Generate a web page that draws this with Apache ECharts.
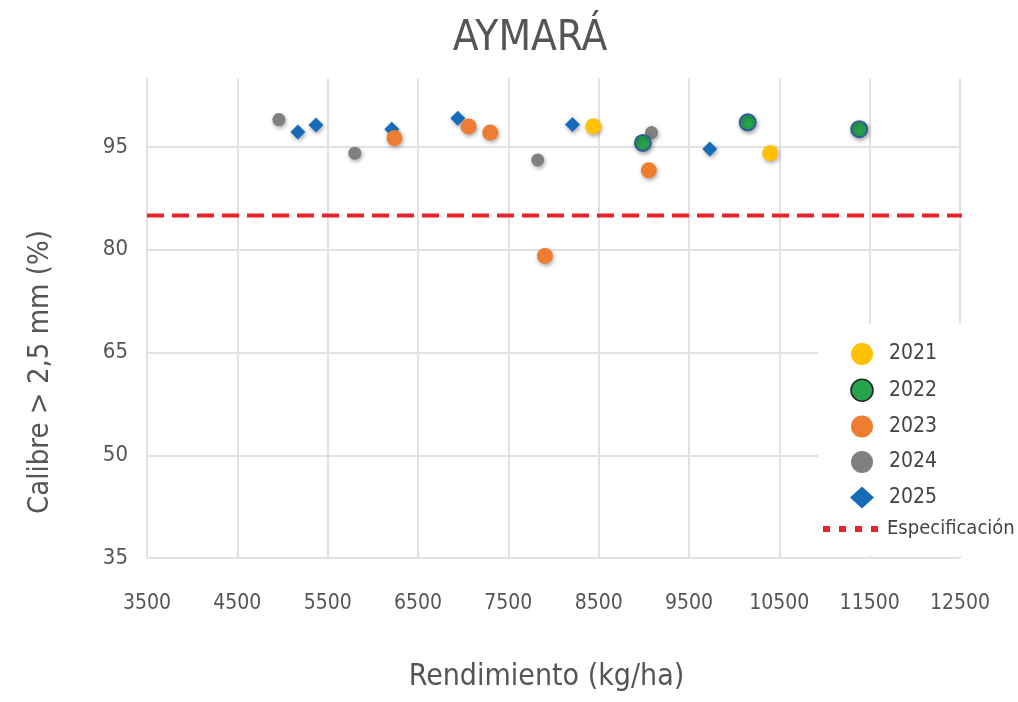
<!DOCTYPE html>
<html>
<head>
<meta charset="utf-8">
<script src="https://cdn.jsdelivr.net/npm/echarts@6/dist/echarts.min.js"></script>
<style>
html,body{margin:0;padding:0;background:#fff;}
#chart{width:1018px;height:702px;}
</style>
</head>
<body>
<div id="chart"></div>
<script>
// ---- data ----
const title = 'AYMARÁ';
const xName = 'Rendimiento (kg/ha)';
const yName = 'Calibre > 2,5 mm (%)';
const years = ['2021', '2022', '2023', '2024', '2025'];
const specName = 'Especificación';

const x2021 = [8440, 10400];
const y2021 = [98.0, 94.1];
const x2022 = [8990, 10150, 11385];
const y2022 = [95.6, 98.6, 97.6];
const x2023 = [6240, 7060, 7300, 7905, 9055];
const y2023 = [96.3, 98.0, 97.1, 79.1, 91.6];
const x2024 = [4960, 5800, 7825, 9085];
const y2024 = [99.0, 94.1, 93.1, 97.1];
const x2025 = [5170, 5370, 6210, 6940, 8210, 9730];
const y2025 = [97.2, 98.2, 97.6, 99.2, 98.3, 94.7];
const specX = [3500, 12590];
const specY = [85, 85];

const xTicks = [3500, 4500, 5500, 6500, 7500, 8500, 9500, 10500, 11500, 12500];
const yTicks = [35, 50, 65, 80, 95];

// ---- build ----
const FONT = "'Liberation Sans Narrow', 'DejaVu Sans Condensed', 'Roboto', sans-serif";
const pairs = (xs, ys) => xs.map((v, i) => [v, ys[i]]);
const shadow = {opacity: 1, shadowBlur: 4, shadowColor: 'rgba(0,0,0,0.35)', shadowOffsetX: 1, shadowOffsetY: 2};
const noShadow = {opacity: 1, shadowBlur: 0, shadowOffsetX: 0, shadowOffsetY: 0, shadowColor: 'rgba(0,0,0,0)'};

const chart = echarts.init(document.getElementById('chart'), null, {renderer: 'canvas'});
const option = {
  backgroundColor: '#ffffff',
  animation: false,
  title: {
    text: title, left: 525, top: 13, textAlign: 'center',
    textStyle: {fontFamily: FONT, fontSize: 42, fontWeight: 'normal', color: '#555555'}
  },
  grid: {left: 147, right: 58, top: 78.5, bottom: 144, containLabel: false},
  xAxis: {
    type: 'value', min: xTicks[0], max: xTicks[xTicks.length - 1], interval: 1000,
    name: xName, nameLocation: 'middle', nameGap: 104,
    nameTextStyle: {fontFamily: FONT, fontSize: 30, color: '#555555', padding: [0, 14, 0, 0]},
    axisLine: {show: false}, axisTick: {show: false},
    axisLabel: {margin: 35, fontFamily: FONT, fontSize: 21, color: '#555555', formatter: v => String(v)},
    splitLine: {show: true, lineStyle: {color: '#e2e2e2', width: 2}}
  },
  yAxis: {
    type: 'value', min: yTicks[0], max: 105, interval: 15,
    axisLine: {show: false}, axisTick: {show: false},
    axisLabel: {margin: 19, fontFamily: FONT, fontSize: 22, color: '#555555', showMaxLabel: false},
    splitLine: {show: true, showMaxLine: false, lineStyle: {color: '#e2e2e2', width: 2}}
  },
  graphic: [
    {type: 'rect', z: 3, shape: {x: 818, y: 324, width: 176, height: 232}, style: {fill: '#ffffff'}},
    {type: 'text', x: 40, y: 372, rotation: Math.PI / 2,
     style: {text: yName, fontFamily: FONT, fontSize: 29, fill: '#555555', textAlign: 'center', textVerticalAlign: 'middle'}}
  ],
  legend: [
    {
      orient: 'vertical', left: 845, top: 338, itemWidth: 24, itemHeight: 22, itemGap: 13.5, z: 5,
      textStyle: {fontFamily: FONT, fontSize: 21, color: '#444444', padding: [0, 0, 0, 10]},
      data: [
        {name: '2021', icon: 'circle', itemStyle: noShadow},
        {name: '2022', icon: 'circle', itemStyle: Object.assign({borderColor: '#222222', borderWidth: 1.5}, noShadow)},
        {name: '2023', icon: 'circle', itemStyle: noShadow},
        {name: '2024', icon: 'circle', itemStyle: noShadow},
        {name: '2025', icon: 'diamond', itemStyle: noShadow}
      ]
    },
    {
      orient: 'vertical', left: 818, top: 514, itemWidth: 55, itemHeight: 6, z: 5,
      textStyle: {fontFamily: FONT, fontSize: 20, color: '#444444', padding: [0, 0, 0, 4]},
      data: [{name: specName, icon: 'path://M0,0h7v6h-7z M16,0h7v6h-7z M32,0h7v6h-7z M48,0h7v6h-7z', itemStyle: {color: '#e8232a', opacity: 1}}]
    }
  ],
  series: [
    {name: specName, type: 'line', data: pairs(specX, specY), symbol: 'none', clip: false, z: 1,
     itemStyle: {color: '#e8232a'}, lineStyle: {color: '#e8232a', width: 4, type: [17, 8]}},
    {name: '2025', type: 'scatter', data: pairs(x2025, y2025), symbol: 'diamond', symbolSize: 15,
     itemStyle: Object.assign({color: '#176cb9'}, shadow)},
    {name: '2024', type: 'scatter', data: pairs(x2024, y2024), symbol: 'circle', symbolSize: 13,
     itemStyle: Object.assign({color: '#808080'}, shadow)},
    {name: '2023', type: 'scatter', data: pairs(x2023, y2023), symbol: 'circle', symbolSize: 16,
     itemStyle: Object.assign({color: '#ee7d31'}, shadow)},
    {name: '2022', type: 'scatter', data: pairs(x2022, y2022), symbol: 'circle', symbolSize: 16,
     itemStyle: Object.assign({color: '#27a34b', borderColor: '#2c5f9c', borderWidth: 2}, shadow)},
    {name: '2021', type: 'scatter', data: pairs(x2021, y2021), symbol: 'circle', symbolSize: 16,
     itemStyle: Object.assign({color: '#ffc000'}, shadow)}
  ]
};
chart.setOption(option);
</script>
</body>
</html>
